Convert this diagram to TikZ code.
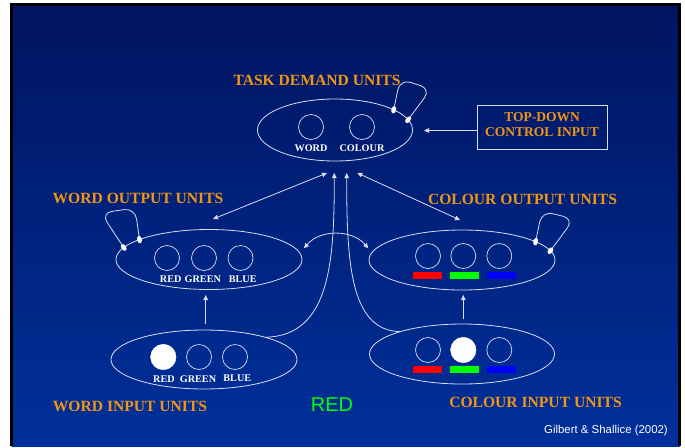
\documentclass[tikz,border=0pt]{standalone}
\usepackage{fontspec}
\setmainfont{Liberation Serif}
\newfontfamily\arialfont{Liberation Sans}
\usetikzlibrary{arrows.meta,shapes.geometric}
\definecolor{orangelab}{RGB}{240,150,20}
\definecolor{linecol}{RGB}{215,222,245}
\definecolor{bgtop}{RGB}{0,20,96}
\definecolor{bgbot}{RGB}{0,48,155}
\definecolor{barred}{RGB}{255,0,0}
\definecolor{bargreen}{RGB}{0,255,0}
\definecolor{barblue}{RGB}{0,0,255}
\begin{document}
\begin{tikzpicture}[x=1pt,y=-1pt,
  every node/.style={inner sep=0pt,outer sep=0pt},
  grouplabel/.style={text=orangelab,font=\fontsize{15.6}{18}\selectfont\bfseries},
  unitlab/.style={text=white,font=\fontsize{10.2}{12}\selectfont\bfseries},
  pool/.style={ellipse,draw=linecol,line width=0.8pt},
  unitc/.style={circle,draw=linecol,line width=0.7pt,minimum size=25pt},
  unitfilled/.style={circle,draw=white,fill=white,minimum size=25.5pt},
  colbar/.style={minimum width=29pt,minimum height=6.6pt},
  blob/.style={ellipse,fill=white,minimum width=7.5pt,minimum height=4.8pt},
  arrowlink/.style={draw=linecol,line width=0.8pt,-{Triangle[length=5pt,width=4.5pt]}},
  twoway/.style={draw=linecol,line width=0.8pt,{Triangle[length=5pt,width=4.5pt]}-{Triangle[length=5pt,width=4.5pt]}},
  selfloop/.style={draw=linecol,line width=0.8pt,rounded corners=11pt}
]
% background
\fill[white] (0,0) rectangle (685,446);
\shade[top color=bgtop,bottom color=bgbot] (11.5,4.5) rectangle (679.5,446);
\draw[black,line width=3pt] (11.5,446) -- (11.5,4.5) -- (679.5,4.5) -- (679.5,446);

% task demand units
\node[pool,minimum width=155pt,minimum height=62pt] (task) at (335,130) {};
\node[unitc] (tword) at (311,127) {};
\node[unitc] (tcol) at (362,127) {};
\node[unitlab] (twordlab) at (311,148) {WORD};
\node[unitlab] (tcollab) at (362,148) {COLOUR};
\node[grouplabel] (tasklab) at (317,80) {TASK DEMAND UNITS};
\draw[selfloop] (task.19.5) -- (400,79) -- (431,89) -- (task.8);
\node[blob,rotate=76.7] (tb1) at (task.19.5) {};
\node[blob,rotate=53.4] (tb2) at (task.8) {};

% top-down control
\node[draw=linecol,line width=0.8pt,minimum width=130pt,minimum height=44pt] (tdbox) at (542,127) {};
\node[text=orangelab,font=\fontsize{13.5}{15.6}\selectfont\bfseries,align=center] (tdtext) at (542,124.5) {TOP-DOWN\\CONTROL INPUT};
\coordinate (tdtip) at (424,130.5);
\draw[arrowlink] (tdbox.west |- tdtip) -- (tdtip);

% word output units
\node[grouplabel] (woutlab) at (138,198) {WORD OUTPUT UNITS};
\node[pool,minimum width=186pt,minimum height=60pt] (wout) at (209,259.5) {};
\node[unitc] (wor) at (167,258) {};
\node[unitc] (wog) at (204,258) {};
\node[unitc] (wob) at (240.5,258) {};
\node[unitlab] (worl) at (170.7,279.3) {RED};
\node[unitlab] (wogl) at (202.8,279.3) {GREEN};
\node[unitlab] (wobl) at (242.7,279.3) {BLUE};
\draw[selfloop] (wout.172) -- (101,213) -- (135,208) -- (wout.164);
\node[blob,rotate=123.3] (wb1) at (wout.172) {};
\node[blob,rotate=101.9] (wb2) at (wout.164) {};

% colour output units
\node[grouplabel] (coutlab) at (522.5,199) {COLOUR OUTPUT UNITS};
\node[pool,minimum width=186pt,minimum height=60pt] (cout) at (462,260) {};
\node[unitc] (cor) at (428,256) {};
\node[unitc] (cog) at (463.3,256) {};
\node[unitc] (cob) at (499.3,256) {};
\node[colbar,fill=barred] (corb) at (427.2,275.5) {};
\node[colbar,fill=bargreen] (cogb) at (464.5,275.5) {};
\node[colbar,fill=barblue] (cobb) at (501.3,275.5) {};
\draw[selfloop] (cout.14) -- (542,211) -- (574,219) -- (cout.6);
\node[blob,rotate=78.2] (cb1) at (cout.14) {};
\node[blob,rotate=53.3] (cb2) at (cout.6) {};

% word input units
\node[pool,minimum width=186pt,minimum height=59pt] (win) at (204,359.5) {};
\node[unitfilled] (wir) at (163.3,357) {};
\node[unitc] (wig) at (199,357) {};
\node[unitc] (wib) at (235,357) {};
\node[unitlab] (wirl) at (164,378.7) {RED};
\node[unitlab] (wigl) at (198,378.7) {GREEN};
\node[unitlab] (wibl) at (237.3,378.7) {BLUE};
\node[grouplabel] (winlab) at (130,406.7) {WORD INPUT UNITS};

% colour input units
\node[pool,minimum width=185pt,minimum height=60pt] (cin) at (462,354) {};
\node[unitc] (cir) at (428,350) {};
\node[unitfilled] (cig) at (463.3,350) {};
\node[unitc] (cib) at (499.3,350) {};
\node[colbar,fill=barred,minimum height=7pt] (cirb) at (427.3,369.5) {};
\node[colbar,fill=bargreen,minimum height=7pt] (cigb) at (464.5,369.5) {};
\node[colbar,fill=barblue,minimum height=7pt] (cibb) at (501.3,369.5) {};
\node[grouplabel] (cinlab) at (535.5,402.3) {COLOUR INPUT UNITS};

% stimulus and citation
\node[text=bargreen,font=\arialfont\fontsize{20}{24}\selectfont] (redword) at (332,404.5) {RED};
\node[text=white,font=\arialfont\fontsize{11.4}{13}\selectfont] (cite) at (606,431) {Gilbert \& Shallice (2002)};

% connectors
\coordinate (wtip) at (205.7,295);
\draw[arrowlink,shorten <=6pt] (win.north -| wtip) -- (wtip);
\coordinate (ctip) at (463.3,295);
\draw[arrowlink,shorten <=5pt] (cin.north -| ctip) -- (ctip);

\coordinate (wt1) at (213,219);
\coordinate (wt2) at (327,173);
\draw[twoway] (wt1) -- (wt2);
\coordinate (ct1) at (357.3,173);
\coordinate (ct2) at (460,220);
\draw[twoway] (ct1) -- (ct2);

\coordinate (ww) at (304,248.3);
\coordinate (cw) at (368.3,248.3);
\draw[twoway] (ww) .. controls (320,229.2) and (352,229.2) .. (cw);

\coordinate (ltip) at (334.3,173);
\coordinate (rtip) at (346.7,173);
\draw[arrowlink] (win.20) .. controls (330,336) and (334.3,262) .. (ltip);
\draw[arrowlink] (cin.160) .. controls (350,331) and (346.7,262) .. (rtip);
\end{tikzpicture}
\end{document}
